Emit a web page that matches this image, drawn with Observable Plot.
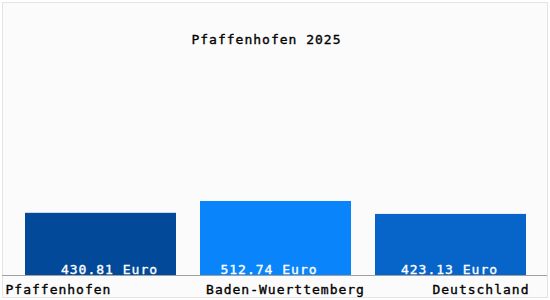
<!DOCTYPE html>
<html>
<head>
<meta charset="utf-8">
<script src="https://cdn.jsdelivr.net/npm/d3@7"></script>
<script src="https://cdn.jsdelivr.net/npm/@observablehq/plot@0.6"></script>
<style>
  html, body { margin: 0; padding: 0; background: #ffffff; }
  #wrap { position: relative; width: 550px; height: 300px; }
  #bg { position: absolute; left: 2px; top: 2px; width: 544px; height: 294px; border: 1px solid #e4e4e4; background: #fbfbfb; }
  #chart { position: absolute; left: 0; top: 0; }
</style>
</head>
<body>
<div id="wrap"><div id="bg"></div><div id="chart"></div></div>
<script>
const title = "Pfaffenhofen 2025";
const categories = ["Pfaffenhofen", "Baden-Wuerttemberg", "Deutschland"];
const values = [430.81, 512.74, 423.13];
const unit = "Euro";
const colors = ["#03499a", "#0a84fa", "#0764c8"];

const data = categories.map((c, i) => ({ category: c, value: values[i], color: colors[i],
  label: values[i].toFixed(2) + " " + unit }));

const font = { fontFamily: "'DejaVu Sans Mono', monospace", fontSize: "13px", letterSpacing: "1px", background: "transparent", overflow: "visible" };
const heavy = (c) => ({ fill: c, stroke: c, strokeWidth: 0.35 });

const chart = Plot.plot({
  width: 550,
  height: 300,
  marginLeft: 13,
  marginRight: 12,
  marginTop: 0,
  marginBottom: 25,
  style: font,
  x: { domain: categories, paddingInner: 24 / 175, paddingOuter: 12 / 175, axis: null },
  y: { domain: [0, 1905], axis: null },
  marks: [
    Plot.barY(data, { x: "category", y: "value", fill: "color" }),
    Plot.ruleY([0], { stroke: "#a0a0a0", insetLeft: -11, insetRight: -9 }),
    Plot.text([data[0]], { x: "category", y: 0, text: "label", ...heavy("white"), lineAnchor: "bottom", dy: -2, dx: 8.5 }),
    Plot.text([data[1]], { x: "category", y: 0, text: "label", ...heavy("white"), lineAnchor: "bottom", dy: -2, dx: -7 }),
    Plot.text([data[2]], { x: "category", y: 0, text: "label", ...heavy("white"), lineAnchor: "bottom", dy: -2, dx: -1.5 }),
    Plot.text([categories[0]], { frameAnchor: "bottom-left", text: d => d, textAnchor: "start", lineAnchor: "bottom", dx: -8, dy: 18, ...heavy("black") }),
    Plot.text([categories[1]], { x: d => d, frameAnchor: "bottom", text: d => d, lineAnchor: "bottom", dx: 9.5, dy: 18, ...heavy("black") }),
    Plot.text([categories[2]], { frameAnchor: "bottom-right", text: d => d, textAnchor: "end", lineAnchor: "bottom", dx: -9, dy: 18, ...heavy("black") }),
    Plot.text([title], { frameAnchor: "top", text: d => d, lineAnchor: "bottom", dy: 43, dx: -9.5, ...heavy("black") })
  ]
});
document.getElementById("chart").appendChild(chart);
</script>
</body>
</html>
